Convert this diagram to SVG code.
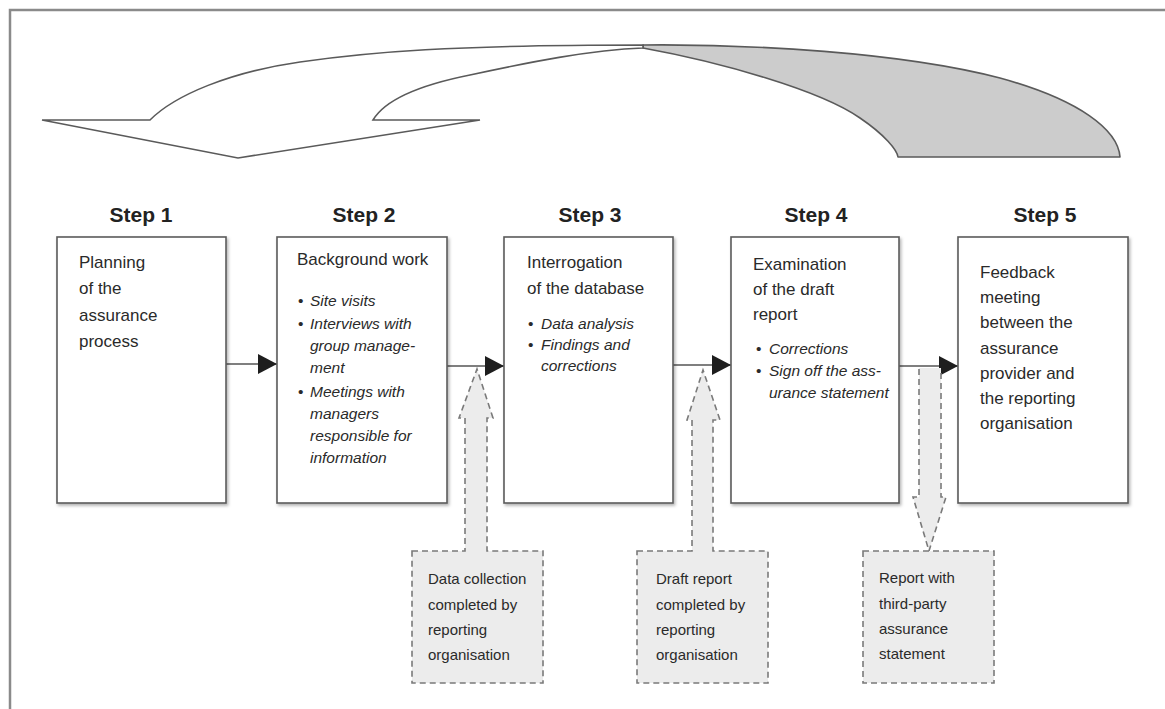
<svg xmlns="http://www.w3.org/2000/svg" width="1165" height="709" viewBox="0 0 1165 709">
<style>
  .frame{fill:none;stroke:#8a8a8a;stroke-width:2.5}
  .box{fill:#fff;stroke:#5a5a5a;stroke-width:1.6}
  .head{font-family:"Liberation Sans",Arial,sans-serif;font-weight:bold;font-size:21px;fill:#222;text-anchor:middle}
  .t{font-family:"Liberation Sans",Arial,sans-serif;font-size:17px;fill:#2a2a2a}
  .b{font-family:"Liberation Sans",Arial,sans-serif;font-size:15.5px;font-style:italic;fill:#2a2a2a}
  .dot{font-family:"Liberation Sans",Arial,sans-serif;font-size:15.5px;fill:#2a2a2a}
  .c{font-family:"Liberation Sans",Arial,sans-serif;font-size:15px;fill:#2a2a2a}
  .conn{stroke:#555;stroke-width:1.6;fill:none}
  .call{fill:#ececec;stroke:#7a7a7a;stroke-width:1.6;stroke-dasharray:6 4}
  .callopen{fill:#ececec;stroke:none}
  .calls{fill:none;stroke:#7a7a7a;stroke-width:1.6;stroke-dasharray:6 4}
</style>
<defs>
  <marker id="ah" markerWidth="19" markerHeight="20" refX="19" refY="10" orient="auto" markerUnits="userSpaceOnUse">
    <path d="M0,0 L19,10 L0,20 Z" fill="#1e1e1e"/>
  </marker>
  <filter id="sh" x="-10%" y="-10%" width="130%" height="130%">
    <feDropShadow dx="1.5" dy="2" stdDeviation="1.5" flood-color="#000" flood-opacity="0.3"/>
  </filter>
</defs>
<rect width="1165" height="709" fill="#fff"/>
<path class="frame" d="M10,709 L10,10 L1165,10"/>

<g id="cycle-arrow">
  <path d="M643,45 C750,44 900,52 1000,78 C1080,100 1118,130 1120,157 L898,157 C897,150 885,135 860,118 C820,90 720,62 643,48 Z" fill="#cccccc" stroke="#5a5a5a" stroke-width="1.6" stroke-linejoin="round"/>
  <path d="M643,45 C450,45 370,52 300,62 C230,72 175,95 150,120 L42,120 L238,158 L480,120 L373,120 C385,100 420,85 470,75 C530,62 590,50 643,48 Z" fill="#fff" stroke="#5a5a5a" stroke-width="1.6" stroke-linejoin="miter"/>
</g>

<g id="connectors">
  <line class="conn" x1="226" y1="364" x2="277" y2="364" marker-end="url(#ah)"/>
  <line class="conn" x1="447" y1="366" x2="504" y2="366" marker-end="url(#ah)"/>
  <line class="conn" x1="673" y1="365" x2="731" y2="365" marker-end="url(#ah)"/>
  <line class="conn" x1="899" y1="366" x2="958" y2="366" marker-end="url(#ah)"/>
</g>

<g id="step1">
  <text class="head" x="141" y="222">Step 1</text>
  <rect class="box" x="57" y="237" width="169" height="266" filter="url(#sh)"/>
  <text class="t" x="79" y="268">Planning</text>
  <text class="t" x="79" y="294">of the</text>
  <text class="t" x="79" y="321">assurance</text>
  <text class="t" x="79" y="347">process</text>
</g>

<g id="step2">
  <text class="head" x="364" y="222">Step 2</text>
  <rect class="box" x="277" y="237" width="170" height="266" filter="url(#sh)"/>
  <text class="t" x="297" y="265">Background work</text>
  <text class="dot" x="298" y="306">•</text>
  <text class="b" x="310" y="306">Site visits</text>
  <text class="dot" x="298" y="329">•</text>
  <text class="b" x="310" y="329">Interviews with</text>
  <text class="b" x="310" y="351">group manage-</text>
  <text class="b" x="310" y="373">ment</text>
  <text class="dot" x="298" y="397">•</text>
  <text class="b" x="310" y="397">Meetings with</text>
  <text class="b" x="310" y="419">managers</text>
  <text class="b" x="310" y="441">responsible for</text>
  <text class="b" x="310" y="463">information</text>
</g>

<g id="step3">
  <text class="head" x="590" y="222">Step 3</text>
  <rect class="box" x="504" y="237" width="169" height="266" filter="url(#sh)"/>
  <text class="t" x="527" y="268">Interrogation</text>
  <text class="t" x="527" y="294">of the database</text>
  <text class="dot" x="528" y="329">•</text>
  <text class="b" x="541" y="329">Data analysis</text>
  <text class="dot" x="528" y="350">•</text>
  <text class="b" x="541" y="350">Findings and</text>
  <text class="b" x="541" y="371">corrections</text>
</g>

<g id="step4">
  <text class="head" x="816" y="222">Step 4</text>
  <rect class="box" x="731" y="237" width="168" height="266" filter="url(#sh)"/>
  <text class="t" x="753" y="270">Examination</text>
  <text class="t" x="753" y="295">of the draft</text>
  <text class="t" x="753" y="320">report</text>
  <text class="dot" x="756" y="354">•</text>
  <text class="b" x="769" y="354">Corrections</text>
  <text class="dot" x="756" y="376">•</text>
  <text class="b" x="769" y="376">Sign off the ass-</text>
  <text class="b" x="769" y="398">urance statement</text>
</g>

<g id="step5">
  <text class="head" x="1045" y="222">Step 5</text>
  <rect class="box" x="958" y="237" width="170" height="266" filter="url(#sh)"/>
  <text class="t" x="980" y="278">Feedback</text>
  <text class="t" x="980" y="303">meeting</text>
  <text class="t" x="980" y="328">between the</text>
  <text class="t" x="980" y="354">assurance</text>
  <text class="t" x="980" y="379">provider and</text>
  <text class="t" x="980" y="404">the reporting</text>
  <text class="t" x="980" y="429">organisation</text>
</g>

<g id="callout1">
  <path class="call" d="M412,551 L465,551 L465,418 L459,418 L477,369 L493,418 L487,418 L487,551 L543,551 L543,683 L412,683 Z"/>
  <text class="c" x="428" y="584">Data collection</text>
  <text class="c" x="428" y="610">completed by</text>
  <text class="c" x="428" y="635">reporting</text>
  <text class="c" x="428" y="660">organisation</text>
</g>

<g id="callout2">
  <path class="call" d="M637,551 L692,551 L692,420 L687,420 L703,370 L720,420 L713,420 L713,551 L768,551 L768,683 L637,683 Z"/>
  <text class="c" x="656" y="584">Draft report</text>
  <text class="c" x="656" y="610">completed by</text>
  <text class="c" x="656" y="635">reporting</text>
  <text class="c" x="656" y="660">organisation</text>
</g>

<g id="callout3">
  <path class="callopen" d="M919,368 L919,497 L913,497 L929,551 L946,497 L941,497 L941,368 Z"/>
  <path class="calls" d="M919,369 L919,497 L913,497 L929,551 L946,497 L941,497 L941,369"/>
  <rect class="call" x="863" y="551" width="131" height="132"/>
  <text class="c" x="879" y="583">Report with</text>
  <text class="c" x="879" y="609">third-party</text>
  <text class="c" x="879" y="634">assurance</text>
  <text class="c" x="879" y="659">statement</text>
</g>
</svg>
